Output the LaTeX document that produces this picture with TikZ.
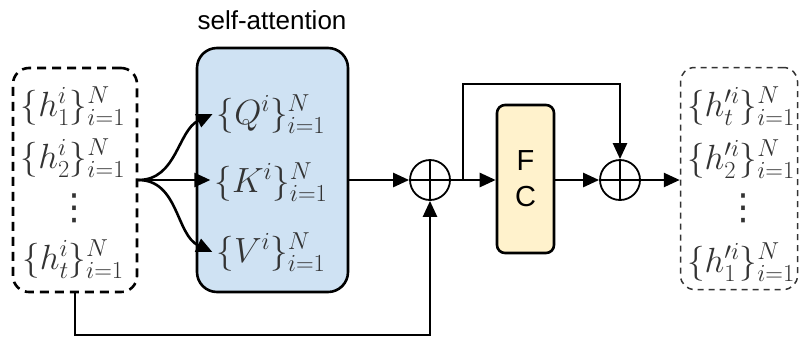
\RequirePackage{fix-cm}
\documentclass[tikz,border=0pt]{standalone}
\usepackage{fontspec}
\setsansfont{Liberation Sans}
\newfontfamily\dotsfont{DejaVu Sans}
\usetikzlibrary{arrows.meta}
\definecolor{sablue}{HTML}{CFE2F3}
\definecolor{fcyellow}{HTML}{FFF2CC}
\definecolor{mtext}{HTML}{333333}
\begin{document}
\begin{tikzpicture}[x=1pt,y=-1pt,
  conn/.style={line width=2.6pt,-{Triangle[length=16pt,width=14pt]}},
  mathtext/.style={inner sep=0pt,text=mtext,font=\fontsize{35}{40}\selectfont},
  dotstext/.style={inner sep=0pt,text=mtext,font=\dotsfont\fontsize{36}{40}\selectfont},
  opplus/.style={circle,draw,line width=1.8pt,minimum size=40pt,inner sep=0pt,
    path picture={\draw[line width=1.5pt] (path picture bounding box.north) -- (path picture bounding box.south)
      (path picture bounding box.west) -- (path picture bounding box.east);}},
  sansbig/.style={font=\sffamily\fontsize{26}{30}\selectfont},
  fcfont/.style={font=\sffamily\fontsize{29}{32}\selectfont}
]
\useasboundingbox (0,0) rectangle (799,338);
% input box
\node[draw,dashed,dash pattern=on 9pt off 6pt,line width=2.6pt,rounded corners=16pt,
  minimum width=124pt,minimum height=224pt,inner sep=0pt] (lbox) at (75,180) {};
\node[mathtext] (h1) at (73,106) {$\{h_1^i\}_{i=1}^N$};
\node[mathtext] (h2) at (73,158) {$\{h_2^i\}_{i=1}^N$};
\node[dotstext] (hd) at (74,208) {⋮};
\node[mathtext] (ht) at (73,259) {$\{h_t^i\}_{i=1}^N$};
% self-attention
\node[draw,fill=sablue,line width=2.6pt,rounded corners=20pt,minimum width=151pt,
  minimum height=244pt,inner sep=0pt] (sa) at (272.5,170) {};
\node[sansbig] (salabel) at (272,20) {self-attention};
\node[mathtext,inner sep=4pt] (q) at (271,114) {$\{Q^i\}_{i=1}^N$};
\node[mathtext,inner sep=4pt] (k) at (271,182) {$\{K^i\}_{i=1}^N$};
\node[mathtext,inner sep=4pt] (v) at (271,252) {$\{V^i\}_{i=1}^N$};
% fork
\draw[conn] (lbox.east) to[out=0,in=205] (q.west);
\draw[conn] (lbox.east) -- (k.west |- lbox.east);
\draw[conn] (lbox.east) to[out=0,in=155] (v.west);
% first sum
\node[opplus] (p1) at (430,180) {};
\draw[conn] (sa.east |- p1) -- (p1.west);
\coordinate (bot) at (75,335);
\draw[conn] (lbox.south) -- (bot) -| (p1.south);
% FC
\node[draw,fill=fcyellow,line width=2.6pt,rounded corners=8pt,minimum width=57pt,
  minimum height=148pt,inner sep=0pt,fcfont,align=center] (fc) at (525.5,179) {F\\[4pt]C};
\coordinate (split) at (463,180);
\draw[conn] (p1.east) -- (fc.west |- p1);
\node[opplus] (p2) at (620,180) {};
\coordinate (topl) at (463,84);
\draw[conn] (split) -- (topl) -| (p2.north);
\draw[conn] (fc.east |- p2) -- (p2.west);
% output box
\node[draw,dashed,dash pattern=on 6pt off 5pt,line width=1.5pt,draw=black!80,rounded corners=14pt,
  minimum width=117pt,minimum height=222pt,inner sep=0pt] (rbox) at (739,178.5) {};
\draw[conn] (p2.east) -- (rbox.west |- p2);
\node[mathtext] (o1) at (741,106) {$\{h'^i_t\}_{i=1}^N$};
\node[mathtext] (o2) at (741,159) {$\{h'^i_2\}_{i=1}^N$};
\node[dotstext] (od) at (743,208) {⋮};
\node[mathtext] (o3) at (741,262) {$\{h'^i_1\}_{i=1}^N$};
\end{tikzpicture}
\end{document}
